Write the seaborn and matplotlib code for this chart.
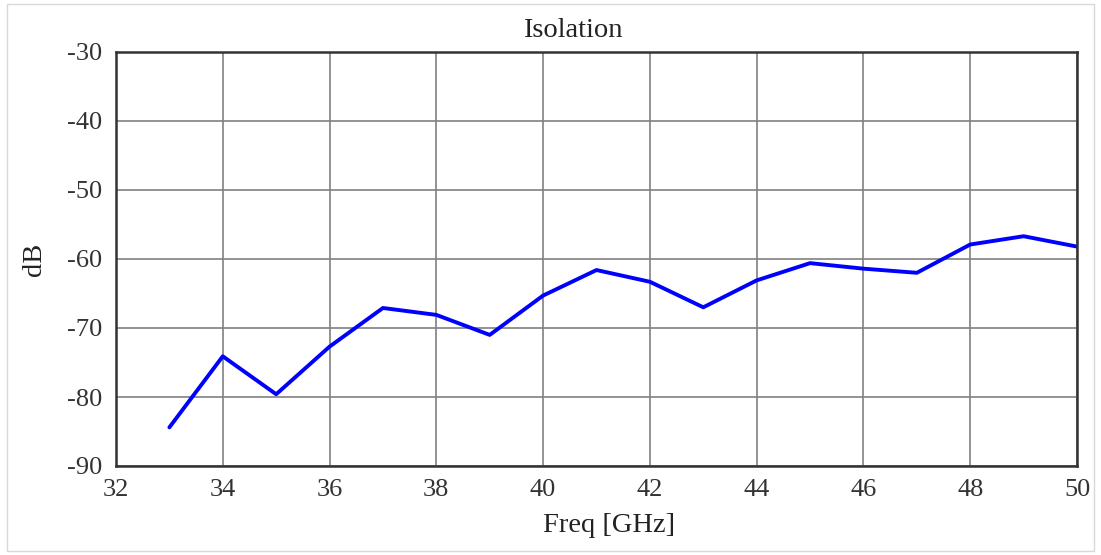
import matplotlib.pyplot as plt
import matplotlib.patches as patches
import numpy as np
import pandas as pd
import seaborn as sns

# Data
freq_ghz = [33, 34, 35, 36, 37, 38, 39, 40, 41, 42, 43, 44, 45, 46, 47, 48, 49, 50]
isolation_db = [-84.4, -74.1, -79.6, -72.7, -67.1, -68.1, -71.0, -65.3, -61.6,
                -63.3, -67.0, -63.1, -60.6, -61.4, -62.0, -57.9, -56.7, -58.2]

df = pd.DataFrame({'Freq [GHz]': freq_ghz, 'dB': isolation_db})

sns.set_style('white')
plt.rcParams['font.family'] = ['Liberation Serif', 'DejaVu Serif']
plt.rcParams['axes.unicode_minus'] = False

fig = plt.figure(figsize=(11.01, 5.55), dpi=100, facecolor='white')
ax = fig.add_axes([116 / 1101, 1 - 466 / 555, (1077 - 116) / 1101, (466 - 52) / 555])

sns.lineplot(data=df, x='Freq [GHz]', y='dB', ax=ax, color='#0000FF', lw=2.8)

ax.set_xlim(32, 50)
ax.set_ylim(-90, -30)
ax.set_xticks(np.arange(32, 51, 2))
ax.set_yticks(np.arange(-90, -29, 10))
ax.grid(True, color='#808080', lw=1.2)
for s in ax.spines.values():
    s.set_color('#333333')
    s.set_linewidth(1.8)
ax.tick_params(axis='both', labelsize=19, length=0, colors='#333333')
ax.tick_params(axis='x', pad=9)
ax.tick_params(axis='y', pad=10)

ax.set_title('Isolation', fontsize=20.5, color='#222222', x=0.475, pad=11)
ax.set_xlabel('Freq [GHz]', fontsize=20.5, color='#222222', labelpad=9, x=0.513)
ax.set_ylabel('dB', fontsize=20.5, color='#222222', labelpad=14)

# Light outer border
fig.patches.append(patches.Rectangle((7 / 1101, 4 / 555), 1 - 14 / 1101, 1 - 8 / 555,
                                     transform=fig.transFigure, fill=False,
                                     edgecolor='#d8d8d8', lw=1))

fig.savefig('out.png', dpi=100)
